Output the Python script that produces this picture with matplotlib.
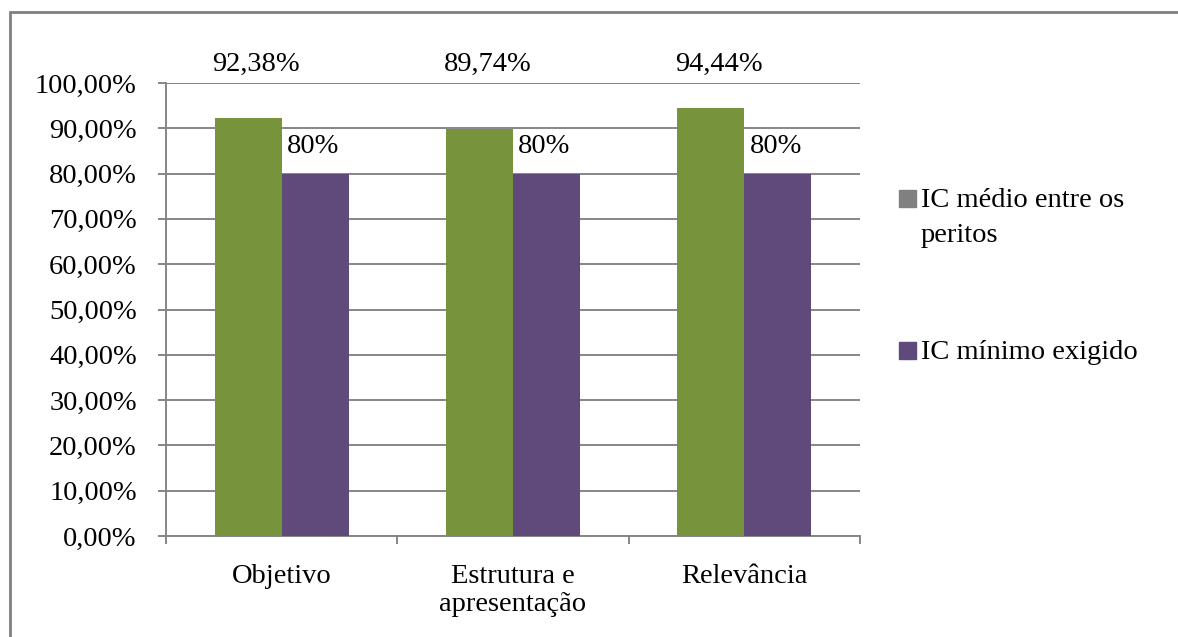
import numpy as np
import matplotlib
matplotlib.use("Agg")
from matplotlib import pyplot as plt
from matplotlib.patches import Rectangle

### Data
categorias = ["Objetivo", "Estrutura e\napresentação", "Relevância"]
ic_medio = [92.38, 89.74, 94.44]
ic_minimo = [80, 80, 80]
rotulos_medio = ["92,38%", "89,74%", "94,44%"]
rotulos_minimo = ["80%", "80%", "80%"]
legenda = ["IC médio entre os\nperitos", "IC mínimo exigido"]
yticks = np.arange(0, 101, 10)

### Style
plt.rcParams['font.family'] = ['Liberation Serif', 'DejaVu Serif']
plt.rcParams['font.size'] = 20.5
verde = '#77933C'
roxo = '#604A7B'
cinza_leg = '#808080'
cinza = '#868686'

W, H = 1178, 637
fig = plt.figure(figsize=(W / 100, H / 100), dpi=100)
ax = fig.add_axes([166 / W, (H - 536) / H, 694 / W, 453 / H])

x = np.arange(len(categorias))
bw = 0.29
ax.bar(x - bw / 2, ic_medio, bw, color=verde, zorder=3)
ax.bar(x + bw / 2, ic_minimo, bw, color=roxo, zorder=3)

### Data labels
for i in range(len(categorias)):
    ax.text(x[i] - bw / 2 + 0.035, 104, rotulos_medio[i], ha='center', va='center', clip_on=False)
    ax.text(x[i] + bw / 2 - 0.01, ic_minimo[i] + 6, rotulos_minimo[i], ha='center', va='center')

### Axes
ax.set_xlim(-0.5, 2.5)
ax.set_ylim(0, 100)
ax.set_yticks(yticks)
ax.set_yticklabels([f"{v:.2f}%".replace('.', ',') for v in yticks])
ax.yaxis.grid(True, color=cinza, linewidth=1.4, zorder=0)
ax.tick_params(axis='y', length=6, width=1.4, color=cinza, pad=15)

ax.set_xticks([-0.5, 0.5, 1.5, 2.5])
ax.set_xticklabels([])
ax.set_xticks(x, minor=True)
ax.set_xticklabels(categorias, minor=True, linespacing=1.15)
ax.tick_params(axis='x', which='major', length=6, width=1.4, color=cinza)
ax.tick_params(axis='x', which='minor', length=0, pad=20)

for s in ['top', 'right']:
    ax.spines[s].set_visible(False)
for s in ['left', 'bottom']:
    ax.spines[s].set_color(cinza)
    ax.spines[s].set_linewidth(1.4)

### Legend (drawn by hand)
cores = [cinza_leg, roxo]
baselines = [207, 359]
for cor, lab, yb in zip(cores, legenda, baselines):
    fig.patches.append(Rectangle((899 / W, (H - yb) / H), 17 / W, 17 / H,
                                 transform=fig.transFigure, color=cor))
    fig.text(921 / W, (H - yb) / H, lab.split('\n')[0], ha='left', va='baseline')
    for k, extra in enumerate(lab.split('\n')[1:]):
        fig.text(921 / W, (H - yb - 35 * (k + 1)) / H, extra, ha='left', va='baseline')

### Outer border
fig.patches.append(Rectangle((9.5 / W, -0.2), 1.3, 1.2 - 12 / H, transform=fig.transFigure,
                             fill=False, edgecolor='#7f7f7f', linewidth=2, clip_on=False))

fig.savefig('out.png', dpi=100, facecolor='white')
